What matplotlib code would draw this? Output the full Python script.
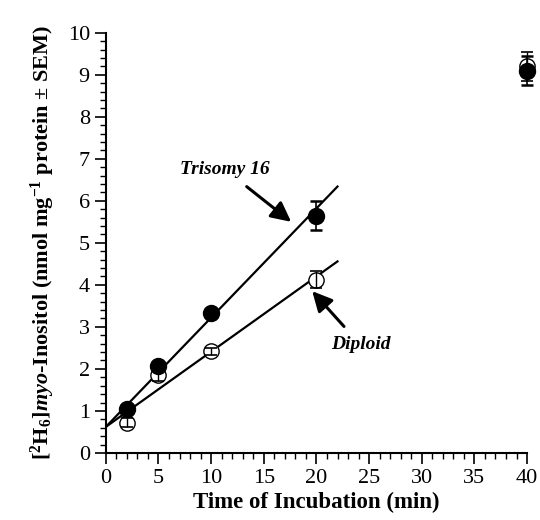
import numpy as np
import matplotlib
matplotlib.use("Agg")
import matplotlib.pyplot as plt
from matplotlib.ticker import MultipleLocator

plt.rcParams['font.family'] = ['Liberation Serif', 'DejaVu Serif']
plt.rcParams['mathtext.fontset'] = 'custom'
plt.rcParams['mathtext.rm'] = 'Liberation Serif:bold'
plt.rcParams['mathtext.it'] = 'Liberation Serif:italic:bold'
plt.rcParams['mathtext.bf'] = 'Liberation Serif:bold'

# données
time_min = [2, 5, 10, 20, 40]
trisomy = [1.05, 2.07, 3.32, 5.65, 9.10]
trisomy_sem = [0.08, 0.08, 0.08, 0.35, 0.35]
diploid = [0.72, 1.85, 2.42, 4.12, 9.20]
diploid_sem = [0.10, 0.15, 0.08, 0.20, 0.35]

# droites de régression (0 - 22 min)
fit_x = [0, 22]
trisomy_fit = (0.62, 0.260)   # ordonnée, pente
diploid_fit = (0.62, 0.179)

fig = plt.figure(figsize=(5.4, 5.2), dpi=100)
ax = fig.add_axes([0.196, 0.129, 0.78, 0.808])

fx = np.array(fit_x)
ax.plot(fx, trisomy_fit[0] + trisomy_fit[1] * fx, color='black', lw=1.6)
ax.plot(fx, diploid_fit[0] + diploid_fit[1] * fx, color='black', lw=1.6)

# diploïde : cercles vides
ax.plot(time_min, diploid, 'o', ms=11, mfc='white', mec='black', mew=1.0,
        zorder=3, clip_on=False)
ax.errorbar(time_min, diploid, yerr=diploid_sem, fmt='none', ecolor='black',
            elinewidth=1.0, capsize=4, capthick=1.2, zorder=4, clip_on=False)

# trisomie 16 : cercles pleins
ax.errorbar(time_min, trisomy, yerr=trisomy_sem, fmt='o', color='black',
            ms=11.5, elinewidth=1.2, capsize=4, capthick=1.8, zorder=5,
            clip_on=False)

ax.set_xlim(0, 40)
ax.set_ylim(0, 10)
ax.xaxis.set_major_locator(MultipleLocator(5))
ax.xaxis.set_minor_locator(MultipleLocator(1))
ax.yaxis.set_major_locator(MultipleLocator(1))
ax.yaxis.set_minor_locator(MultipleLocator(0.2))
ax.tick_params(which='major', direction='out', length=8, width=1.2, labelsize=16)
ax.tick_params(which='minor', direction='out', length=4, width=1.0)
ax.spines['top'].set_visible(False)
ax.spines['right'].set_visible(False)
ax.spines['left'].set_linewidth(1.5)
ax.spines['bottom'].set_linewidth(1.5)

ax.set_xlabel('Time of Incubation (min)', fontsize=16.5, fontweight='bold', labelpad=3)
ax.set_ylabel(r'[$^{2}$H$_{6}$]$myo$-Inositol (nmol mg$^{-1}$ protein ± SEM)',
              fontsize=16, fontweight='bold', labelpad=8)

ax.annotate('Trisomy 16', xy=(17.6, 5.5), xytext=(11.3, 6.75),
            fontsize=14, fontweight='bold', fontstyle='italic',
            ha='center', va='center',
            arrowprops=dict(arrowstyle='-|>', color='black', lw=2.2,
                            mutation_scale=30, shrinkA=7, shrinkB=0))
ax.annotate('Diploid', xy=(19.6, 3.85), xytext=(24.2, 2.57),
            fontsize=14, fontweight='bold', fontstyle='italic',
            ha='center', va='center',
            arrowprops=dict(arrowstyle='-|>', color='black', lw=2.2,
                            mutation_scale=30, shrinkA=7, shrinkB=0))

fig.savefig('out.png', dpi=100)
